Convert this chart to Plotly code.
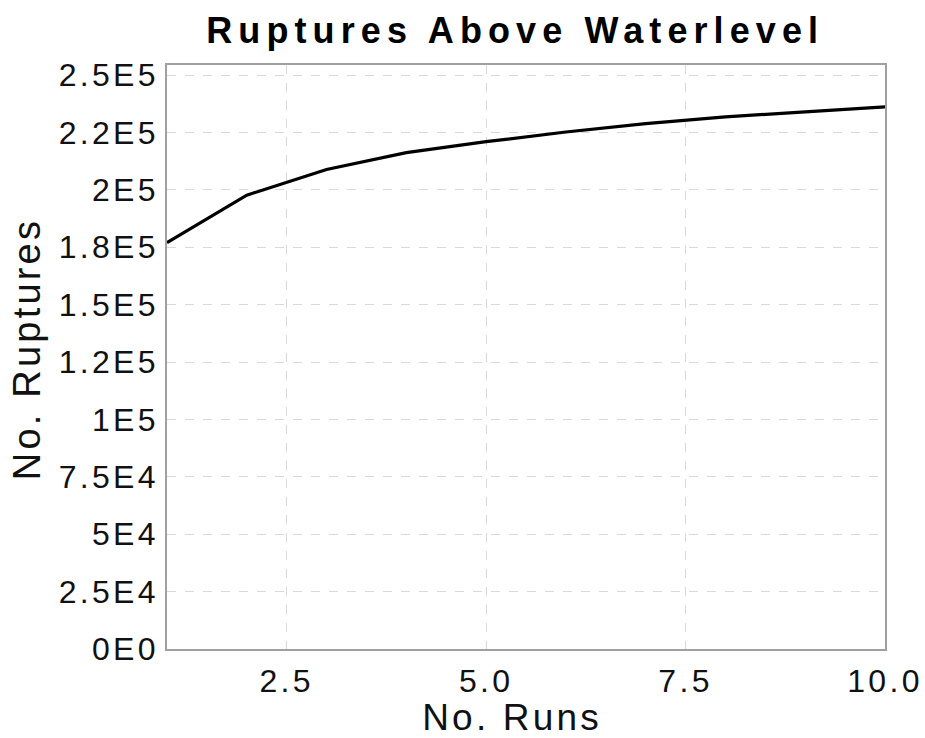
import plotly.graph_objects as go

# Number of runs vs. count of ruptures above the waterlevel
runs = [1, 2, 3, 4, 5, 6, 7, 8, 9, 10]
ruptures = [177000, 197700, 208900, 216200, 221000, 225200, 228900, 231800, 234000, 236200]

y_tick_vals = [0, 25000, 50000, 75000, 100000, 125000, 150000, 175000, 200000, 225000, 250000]
y_tick_text = ["0E0", "2.5E4", "5E4", "7.5E4", "1E5", "1.2E5", "1.5E5", "1.8E5", "2E5", "2.2E5", "2.5E5"]
x_tick_vals = [2.5, 5.0, 7.5, 10.0]
x_tick_text = ["2.5", "5.0", "7.5", "10.0"]
x_title = "No. Runs"
y_title = "No. Ruptures"

FONT = "Liberation Sans, Arial, Helvetica, sans-serif"

fig = go.Figure(
    go.Scatter(x=runs, y=ruptures, mode="lines",
               line=dict(color="black", width=3.2), showlegend=False)
)

axis_common = dict(
    showline=True, linecolor="#a0a0a0", linewidth=1.5, mirror=True,
    showgrid=True, gridcolor="#d9d9d9", griddash="dash", gridwidth=1,
    zeroline=False, ticks="", automargin=False,
    tickfont=dict(family=FONT, size=32, color="#111"),
)

fig.update_layout(
    width=925, height=738,
    margin=dict(l=167, r=40, t=65, b=89),
    paper_bgcolor="white", plot_bgcolor="white",
    title=dict(text="Ruptures Above Waterlevel", x=0.557, xanchor="center",
               y=0.959, yanchor="middle",
               font=dict(family=FONT, size=36, color="black", weight="bold")),
    xaxis=dict(range=[1, 10], tickvals=x_tick_vals, ticktext=x_tick_text,
               ticklabelstandoff=3, **axis_common),
    yaxis=dict(range=[0, 254400], tickvals=y_tick_vals, ticktext=y_tick_text,
               ticklabelstandoff=0, **axis_common),
)

# Axis titles placed as annotations for precise positioning
fig.add_annotation(text=x_title, xref="paper", yref="paper",
                   x=0.48, y=-0.1165, xanchor="center", yanchor="middle",
                   showarrow=False, font=dict(family=FONT, size=37, color="#111"))
fig.add_annotation(text=y_title, xref="paper", yref="paper", textangle=-90,
                   x=-0.1943, y=0.5146, xanchor="center", yanchor="middle",
                   showarrow=False, font=dict(family=FONT, size=38, color="#111"))

# Wider character tracking for the text elements
letter_spacing_css = (
    "text.gtitle{letter-spacing:6.1px}"
    "text.annotation-text{letter-spacing:3.2px}"
    "g.xtick text, g.ytick text{letter-spacing:3.3px}"
)
post_js = (
    "var st=document.createElement('style');"
    "st.textContent='" + letter_spacing_css + "';"
    "document.head.appendChild(st);"
)

fig.write_html("out.html", post_script=post_js)
